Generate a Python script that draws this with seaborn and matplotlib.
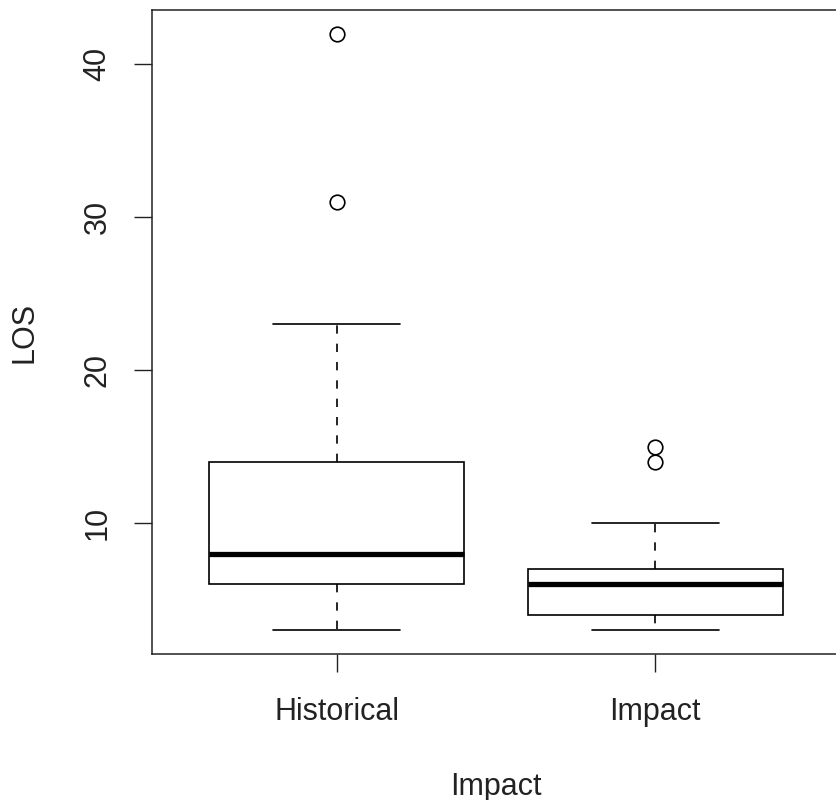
import matplotlib
matplotlib.use("Agg")
import matplotlib.pyplot as plt
import seaborn as sns
import pandas as pd

# Data (values chosen so the box statistics match the chart)
historical_los = [3, 5, 6, 6, 7, 8, 8, 10, 12, 14, 23, 31, 42]
impact_los = [3, 4, 4, 4, 5, 6, 6, 6, 7, 7, 10, 14, 15]
group_labels = ["Historical", "Impact"]
y_ticks = [10, 20, 30, 40]

df = pd.DataFrame({
    "Impact": [group_labels[0]] * len(historical_los) + [group_labels[1]] * len(impact_los),
    "LOS": historical_los + impact_los,
})

sns.set_style("white")
plt.rcParams["font.family"] = ["Liberation Sans", "DejaVu Sans"]

fig = plt.figure(figsize=(8.37, 8), dpi=100)
ax = fig.add_axes([152 / 837, (800 - 654) / 800, (840 - 152) / 837, (654 - 10) / 800])

sns.boxplot(
    data=df, x="Impact", y="LOS", order=group_labels, ax=ax,
    width=0.8, color="white", saturation=1, linecolor="black", linewidth=1.2,
    whis=1.5,
    medianprops=dict(linewidth=3.8, color="black", solid_capstyle="butt"),
    whiskerprops=dict(linestyle=(0, (5, 6)), linewidth=1.2, color="black"),
    capprops=dict(linewidth=1.2, color="black"),
    flierprops=dict(marker="o", markerfacecolor="none", markeredgecolor="black",
                    markersize=10.5, markeredgewidth=1.2),
)

ax.set_xlim(-0.58, 1.58)
ax.set_ylim(1.44, 43.56)
ax.set_yticks(y_ticks)
ax.set_yticklabels([str(t) for t in y_ticks])

for side in ["left", "right", "top", "bottom"]:
    ax.spines[side].set_visible(True)
    ax.spines[side].set_color("#222222")
    ax.spines[side].set_linewidth(1.1)

ax.tick_params(axis="both", direction="out", length=13, width=1.0, color="#222222",
               labelsize=22, labelcolor="#222222")
ax.tick_params(axis="x", pad=18, bottom=True)
ax.tick_params(axis="y", pad=15.5, left=True, labelrotation=90)
for lab in ax.get_yticklabels():
    lab.set_va("center")

ax.set_xlabel("Impact", fontsize=22, color="#222222", labelpad=32)
ax.set_ylabel("LOS", fontsize=22, color="#222222", labelpad=31)

fig.savefig("out.png", dpi=100)
